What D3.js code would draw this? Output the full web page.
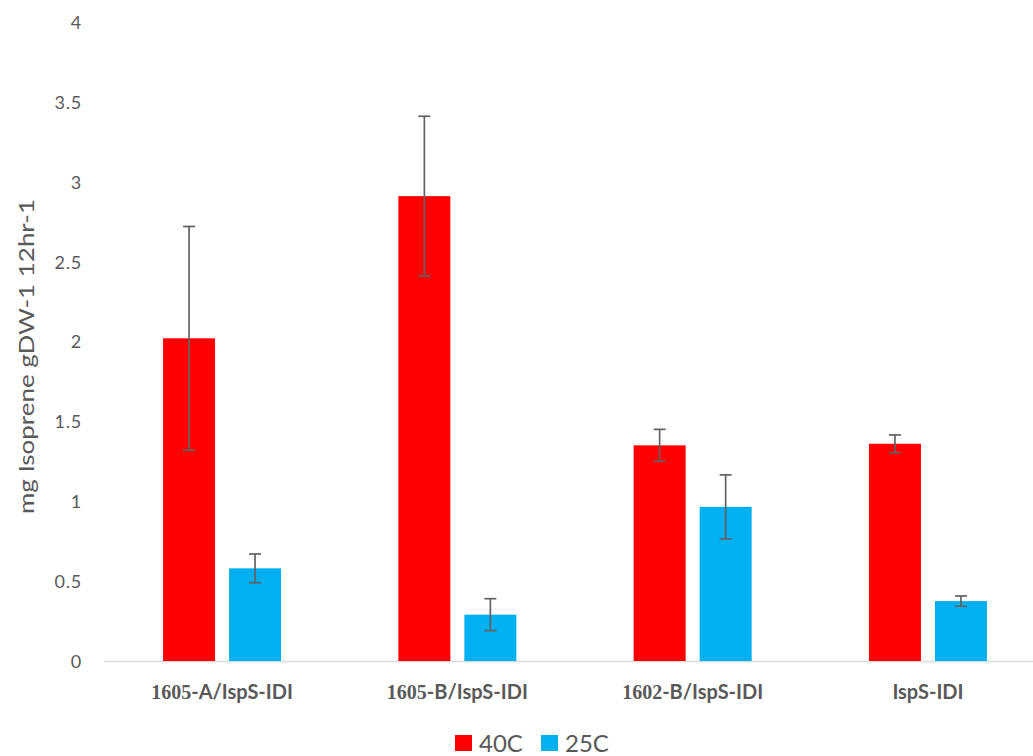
<!DOCTYPE html>
<html>
<head>
<meta charset="utf-8">
<script src="https://cdn.jsdelivr.net/npm/d3@7"></script>
<style>
  html, body { margin: 0; padding: 0; background: #fff; }
  svg { display: block; }
</style>
</head>
<body>
<svg id="chart" width="1033" height="756"></svg>
<script>
// ---- data ----
const categories = ["1605-A/IspS-IDI", "1605-B/IspS-IDI", "1602-B/IspS-IDI", "IspS-IDI"];
const seriesNames = ["40C", "25C"];
const values40 = [2.02, 2.91, 1.35, 1.36];
const errors40 = [0.70, 0.50, 0.10, 0.055];
const values25 = [0.58, 0.29, 0.965, 0.375];
const errors25 = [0.09, 0.10, 0.20, 0.032];
const yTicks = [0, 0.5, 1, 1.5, 2, 2.5, 3, 3.5, 4];
const yTitle = "mg Isoprene gDW-1 12hr-1";

const colors = { "40C": "#FF0000", "25C": "#00B0F0" };
const textColor = "#595959";

const rows = [];
categories.forEach((c, i) => {
  rows.push({ cat: c, s: "40C", v: values40[i], e: errors40[i] });
  rows.push({ cat: c, s: "25C", v: values25[i], e: errors25[i] });
});

const svg = d3.select("#chart");

const x0 = d3.scaleBand().domain(categories).range([104.4, 1045.6]).paddingInner(0).paddingOuter(0);
const bw = x0.bandwidth();
const x1 = d3.scaleBand().domain(seriesNames)
  .range([bw / 2 - 59, bw / 2 + 59]).paddingInner(14 / 66).paddingOuter(0);
const y = d3.scaleLinear().domain([0, 4]).range([661, 22]);

// baseline
svg.append("line")
  .attr("x1", 104).attr("x2", 1033)
  .attr("y1", y(0) + 0.5).attr("y2", y(0) + 0.5)
  .attr("stroke", "#D9D9D9").attr("stroke-width", 1.3);

// y tick labels
const yAxis = d3.axisLeft(y).tickValues(yTicks).tickSize(0).tickPadding(0)
  .tickFormat(d3.format("~g"));
const gy = svg.append("g").attr("transform", "translate(82,0)").call(yAxis);
gy.select(".domain").remove();
gy.selectAll("text")
  .attr("fill", textColor)
  .attr("font-family", "Lato, 'Open Sans', sans-serif")
  .attr("font-size", 18)
  .attr("letter-spacing", 0.8)
  .attr("dy", "0.36em");

// y title
svg.append("text")
  .attr("transform", `translate(34,${356.5}) rotate(-90)`)
  .attr("text-anchor", "middle")
  .attr("fill", textColor)
  .attr("font-family", "Lato, 'Open Sans', sans-serif")
  .attr("font-size", 22)
  .attr("textLength", 315)
  .attr("lengthAdjust", "spacingAndGlyphs")
  .text(yTitle);

// bars
const bars = svg.append("g");
bars.selectAll("rect").data(rows).join("rect")
  .attr("x", d => x0(d.cat) + x1(d.s))
  .attr("y", d => y(d.v))
  .attr("width", x1.bandwidth())
  .attr("height", d => y(0) - y(d.v))
  .attr("fill", d => colors[d.s]);

// error bars
const eb = svg.append("g").attr("stroke", "#626262").attr("stroke-width", 1.7).attr("fill", "none");
rows.forEach(d => {
  const cx = x0(d.cat) + x1(d.s) + x1.bandwidth() / 2;
  const y1 = y(d.v + d.e), y2 = y(d.v - d.e);
  eb.append("line").attr("x1", cx).attr("x2", cx).attr("y1", y1).attr("y2", y2);
  eb.append("line").attr("x1", cx - 6).attr("x2", cx + 6).attr("y1", y1).attr("y2", y1);
  eb.append("line").attr("x1", cx - 6).attr("x2", cx + 6).attr("y1", y2).attr("y2", y2);
});

// x labels
const xl = svg.append("g");
categories.forEach(c => {
  const t = xl.append("text")
    .attr("x", x0(c) + bw / 2)
    .attr("y", 699)
    .attr("text-anchor", "middle")
    .attr("fill", textColor)
    .attr("font-weight", "bold")
    .attr("font-size", 20);
  const m = c.match(/^(\d+)(.*)$/);
  if (m) {
    t.append("tspan").attr("font-family", "'Liberation Serif', serif").text(m[1]);
    t.append("tspan").attr("font-family", "Lato, 'Open Sans', sans-serif").text(m[2]);
  } else {
    t.append("tspan").attr("font-family", "Lato, 'Open Sans', sans-serif").text(c);
  }
});

// legend
const legendX = [455, 541];
const lg = svg.append("g");
seriesNames.forEach((s, i) => {
  lg.append("rect")
    .attr("x", legendX[i]).attr("y", 735)
    .attr("width", 17).attr("height", 16)
    .attr("fill", colors[s]);
  lg.append("text")
    .attr("x", legendX[i] + 24).attr("y", 752)
    .attr("fill", textColor)
    .attr("font-family", "Lato, 'Open Sans', sans-serif")
    .attr("font-size", 24)
    .text(s);
});
</script>
</body>
</html>
